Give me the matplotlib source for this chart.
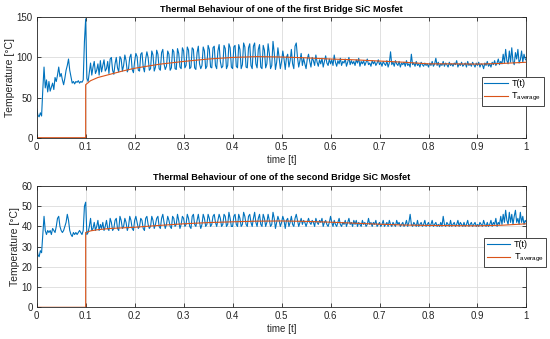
import numpy as np
import matplotlib
matplotlib.use("Agg")
import matplotlib.pyplot as plt

plt.rcParams['font.family'] = ['Liberation Sans', 'DejaVu Sans']

# ---------------- data (sampled every 0.0025 s) ----------------
temp_first = [
    36, 28, 26, 31, 27, 60, 88, 62, 72, 57, 70, 58, 63, 68, 60, 75, 70, 78, 88, 76,
    80, 72, 66, 74, 84, 90, 98, 84, 76, 68, 70, 67, 70, 69, 71, 68, 70, 69, 72, 120,
    148, 74, 70, 82, 93, 78, 88, 95, 80, 84, 92, 78, 96, 82, 90, 97, 83, 86, 95, 80,
    98, 100, 84, 79, 92, 100, 87, 82, 101, 98, 83, 90, 103, 96, 82, 86, 100, 104, 85, 81,
    95, 105, 101, 84, 83, 104, 106, 88, 82, 98, 107, 100, 84, 86, 108, 103, 83, 88, 109, 104,
    86, 84, 106, 110, 92, 85, 89, 108, 104, 84, 87, 110, 107, 86, 85, 111, 105, 88, 86, 112,
    108, 87, 90, 113, 109, 86, 88, 112, 110, 87, 85, 106, 114, 92, 86, 90, 113, 108, 86, 89,
    115, 110, 88, 87, 112, 114, 90, 86, 108, 116, 95, 87, 89, 115, 111, 86, 90, 117, 112, 88,
    86, 113, 115, 89, 87, 116, 110, 86, 91, 118, 113, 88, 87, 112, 117, 90, 86, 114, 118, 92,
    87, 110, 116, 88, 86, 115, 109, 87, 92, 117, 105, 86, 90, 120, 106, 85, 94, 112, 100, 86,
    95, 108, 98, 85, 100, 104, 88, 96, 110, 92, 86, 114, 118, 100, 88, 96, 105, 90, 99, 92,
    86, 98, 104, 95, 88, 100, 96, 90, 103, 94, 89, 97, 92, 99, 88, 95, 102, 93, 90, 98,
    92, 97, 90, 103, 94, 89, 96, 92, 99, 90, 95, 93, 98, 89, 94, 100, 91, 96, 92, 95,
    90, 97, 93, 99, 89, 95, 92, 96, 90, 94, 98, 91, 93, 89, 96, 92, 95, 90, 93, 97,
    91, 94, 89, 95, 92, 90, 96, 88, 93, 107, 91, 94, 89, 96, 92, 90, 95, 88, 93, 91,
    94, 89, 96, 90, 92, 88, 104, 91, 93, 89, 95, 90, 92, 88, 94, 91, 89, 93, 90, 92,
    88, 93, 90, 95, 89, 92, 99, 90, 94, 88, 92, 90, 95, 89, 93, 91, 88, 94, 90, 92,
    89, 93, 91, 96, 88, 92, 90, 94, 89, 91, 93, 88, 95, 90, 92, 89, 94, 91, 88, 93,
    90, 94, 88, 92, 91, 86, 93, 90, 95, 89, 92, 88, 94, 91, 96, 90, 93, 98, 91, 95,
    92, 104, 93, 110, 96, 92, 108, 94, 112, 95, 91, 106, 98, 110, 93, 97, 108, 94, 104, 98,
    96,
]

temp_second = [
    30, 26, 25, 28, 27, 36, 45, 38, 36, 38, 37, 38, 36, 39, 38, 37, 40, 44, 45, 40,
    38, 37, 38, 40, 42, 46, 43, 38, 36, 35, 37, 36, 37, 36, 37, 38, 37, 36, 38, 50,
    52, 36, 37, 40, 44, 38, 39, 42, 38, 40, 43, 38, 41, 39, 42, 38, 40, 43, 39, 38,
    44, 42, 38, 39, 43, 44, 39, 38, 45, 43, 39, 40, 44, 42, 38, 40, 45, 43, 39, 38,
    43, 45, 42, 39, 40, 44, 43, 39, 38, 44, 45, 41, 39, 40, 45, 43, 39, 41, 44, 45,
    40, 39, 44, 46, 42, 39, 41, 45, 43, 40, 39, 45, 44, 40, 41, 46, 43, 39, 41, 45,
    44, 40, 41, 46, 44, 40, 39, 45, 46, 41, 40, 43, 46, 42, 39, 41, 46, 44, 40, 41,
    46, 44, 40, 41, 45, 46, 42, 40, 43, 46, 44, 40, 41, 46, 45, 40, 41, 47, 44, 40,
    40, 45, 46, 41, 40, 46, 44, 40, 41, 47, 45, 41, 40, 45, 46, 42, 40, 44, 47, 42,
    40, 44, 46, 41, 40, 46, 44, 40, 42, 46, 43, 40, 41, 47, 44, 39, 42, 45, 43, 40,
    42, 45, 43, 39, 43, 44, 40, 42, 45, 41, 40, 44, 46, 43, 40, 42, 44, 41, 43, 42,
    40, 42, 44, 42, 41, 43, 42, 40, 44, 42, 41, 43, 42, 44, 40, 42, 43, 41, 40, 42,
    45, 42, 40, 43, 41, 40, 42, 44, 41, 40, 42, 41, 43, 40, 42, 44, 41, 42, 40, 43,
    41, 43, 40, 42, 41, 40, 43, 41, 42, 40, 41, 44, 41, 42, 40, 42, 41, 43, 40, 41,
    42, 40, 41, 43, 40, 41, 42, 40, 43, 41, 40, 42, 41, 40, 43, 41, 42, 40, 41, 42,
    40, 41, 43, 40, 42, 46, 41, 40, 42, 41, 40, 43, 40, 41, 42, 40, 41, 43, 40, 41,
    42, 40, 41, 43, 40, 41, 42, 40, 41, 40, 42, 40, 45, 41, 40, 42, 41, 40, 43, 40,
    41, 42, 40, 41, 43, 40, 42, 41, 40, 42, 40, 41, 43, 40, 41, 42, 40, 41, 42, 40,
    41, 40, 42, 41, 40, 43, 41, 40, 42, 40, 41, 43, 40, 42, 41, 44, 40, 42, 41, 45,
    41, 46, 42, 48, 43, 41, 47, 42, 46, 41, 45, 48, 42, 44, 41, 47, 42, 45, 41, 43,
    42,
]

avg_time = [0, 0.1, 0.1, 0.11, 0.125, 0.15, 0.175, 0.2, 0.25, 0.3, 0.35, 0.4,
            0.45, 0.5, 0.55, 0.6, 0.65, 0.7, 0.75, 0.8, 0.85, 0.9, 0.95, 1.0]
avg_first = [0, 0, 66, 71, 75, 79, 83, 86.5, 91.5, 95, 98, 100,
             101, 100.5, 99.5, 98, 97, 95.5, 94, 92, 92, 91.7, 92.5, 94]
avg_second = [0, 0, 37, 37.8, 38.4, 39, 39.3, 39.6, 40.5, 41.3, 41.9, 42.3,
              42.6, 42.7, 42.5, 42.1, 41.6, 41.1, 40.7, 40.5, 40.4, 40.3, 40.6, 41.3]

titles = ["Thermal Behaviour of one of the first Bridge SiC Mosfet",
          "Thermal Behaviour of one of the second Bridge SiC Mosfet"]
x_ticks = [0, 0.1, 0.2, 0.3, 0.4, 0.5, 0.6, 0.7, 0.8, 0.9, 1]
x_tick_labels = ["0", "0.1", "0.2", "0.3", "0.4", "0.5", "0.6", "0.7", "0.8", "0.9", "1"]
y_ticks_first = [0, 50, 100, 150]
y_ticks_second = [0, 10, 20, 30, 40, 50, 60]

# ---------------- plot ----------------
BLUE = "#0072BD"
ORANGE = "#D95319"
AXC = "#262626"

fig = plt.figure(figsize=(5.5, 3.39), dpi=100)
ax1 = fig.add_axes([0.0667, 0.5938, 0.8905, 0.3552])
ax2 = fig.add_axes([0.0667, 0.0935, 0.8905, 0.3578])

configs = [
    (ax1, temp_first, avg_first, y_ticks_first, titles[0], (0.9085, 0.5066)),
    (ax2, temp_second, avg_second, y_ticks_second, titles[1], (0.913, 0.574)),
]

for ax, temp, avg, yt, title, leg_pos in configs:
    t = np.linspace(0, 1, len(temp))
    ax.plot(t, temp, color=BLUE, lw=0.8, label="T(t)")
    ax.plot(avg_time, avg, color=ORANGE, lw=0.8, label=r"T$_{\mathregular{average}}$")
    ax.set_xlim(0, 1)
    ax.set_ylim(yt[0], yt[-1])
    ax.set_xticks(x_ticks)
    ax.set_xticklabels(x_tick_labels)
    ax.set_yticks(yt)
    ax.grid(True, color="#dcdcdc", lw=0.6)
    ax.set_axisbelow(True)
    for s in ax.spines.values():
        s.set_color(AXC)
        s.set_linewidth(0.6)
    ax.tick_params(axis="both", direction="in", length=3, width=0.6, colors=AXC,
                   labelsize=7, top=True, right=True, pad=3)
    ax.set_title(title, fontsize=6.6, fontweight="bold", color="black", pad=4)
    ax.set_xlabel("time [t]", fontsize=7, color=AXC, labelpad=2)
    ax.set_ylabel("Temperature [\u00b0C]", fontsize=7.5, color=AXC, labelpad=1)
    leg = ax.legend(loc="upper left", bbox_to_anchor=leg_pos, fontsize=6.5,
                    frameon=True, fancybox=False, edgecolor=AXC, framealpha=1,
                    handlelength=2.6, borderpad=0.3, labelspacing=0.3,
                    handletextpad=0.4, borderaxespad=0)
    leg.get_frame().set_linewidth(0.6)

fig.savefig("out.png", dpi=100)
